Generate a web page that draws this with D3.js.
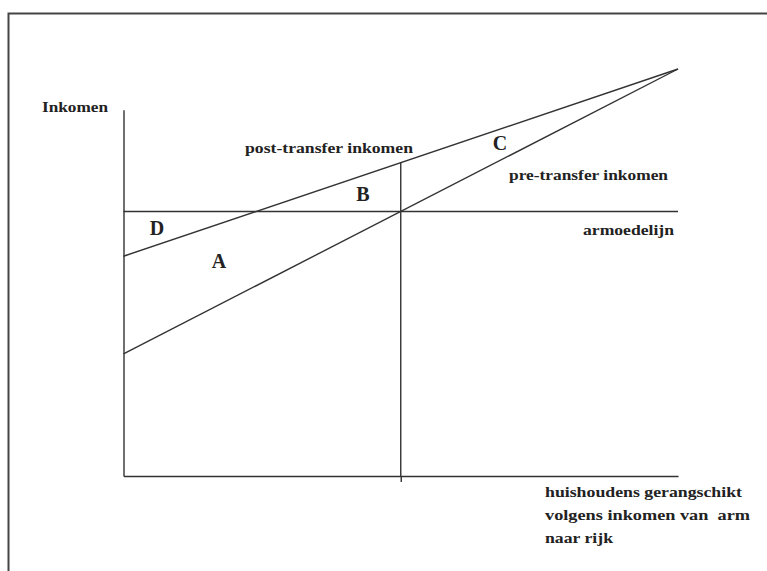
<!DOCTYPE html>
<html>
<head>
<meta charset="utf-8">
<script src="https://cdn.jsdelivr.net/npm/d3@7/dist/d3.min.js"></script>
<style>
  body { margin: 0; background: #fff; }
  svg text { font-family: "Liberation Serif", "Times New Roman", serif; font-weight: bold; fill: #222; white-space: pre; }
</style>
</head>
<body>
<svg id="chart" width="767" height="571"></svg>
<script>
// schematic: households ranked poor -> rich (0..100), income (0..100)
var rankDomain = [0, 100];
var incomeDomain = [0, 100];
var preTransfer = [[0, 30], [100, 100]];
var postTransfer = [[0, 54], [100, 100]];
var povertyLine = 65;
var medianRank = 50;
var incomeAxisTop = 90;

var areaLetters = ["C", "B", "D", "A"];
var lineLabels = ["post-transfer inkomen", "pre-transfer inkomen", "armoedelijn"];
var yLabel = "Inkomen";
var xLabel = ["huishoudens gerangschikt", "volgens inkomen van  arm", "naar rijk"];

var svg = d3.select("#chart");
var ink = "#333";

// frame around the figure
svg.append("path")
    .attr("d", "M8.5,571 L8.5,13.5 L767,13.5")
    .attr("fill", "none")
    .attr("stroke", "#444")
    .attr("stroke-width", 2);

var x = d3.scaleLinear().domain(rankDomain).range([123.5, 678]);
var y = d3.scaleLinear().domain(incomeDomain).range([476, 69]);

// axes
var xAxis = d3.axisBottom(x)
    .tickValues([medianRank])
    .tickSizeInner(6)
    .tickSizeOuter(0)
    .tickFormat("");

svg.append("g")
    .attr("class", "x axis")
    .attr("transform", "translate(0," + y(0) + ")")
    .call(xAxis)
    .call(function(g){
        g.selectAll("path, line").attr("stroke", ink).attr("stroke-width", 1.4);
    });

var yAxisScale = d3.scaleLinear().domain([0, incomeAxisTop]).range([y(0), y(incomeAxisTop)]);
svg.append("g")
    .attr("class", "y axis")
    .attr("transform", "translate(" + x(0) + ",0)")
    .call(d3.axisLeft(yAxisScale).tickValues([]).tickSizeOuter(0))
    .call(function(g){
        g.selectAll("path").attr("stroke", ink).attr("stroke-width", 1.4);
    });

// poverty line
svg.append("line")
    .attr("x1", x(0)).attr("x2", x(100))
    .attr("y1", y(povertyLine)).attr("y2", y(povertyLine))
    .attr("stroke", ink).attr("stroke-width", 1.4);

// income lines
var line = d3.line()
    .x(function(d){ return x(d[0]); })
    .y(function(d){ return y(d[1]); });

svg.selectAll(".income")
    .data([preTransfer, postTransfer])
    .enter()
    .append("path")
    .attr("class", "income")
    .attr("d", line)
    .attr("fill", "none")
    .attr("stroke", ink)
    .attr("stroke-width", 1.4);

// vertical line at the median household, up to the post-transfer line
var postAtMedian = d3.scaleLinear()
    .domain([postTransfer[0][0], postTransfer[1][0]])
    .range([postTransfer[0][1], postTransfer[1][1]])(medianRank);

svg.append("line")
    .attr("x1", x(medianRank)).attr("x2", x(medianRank))
    .attr("y1", y(0)).attr("y2", y(postAtMedian))
    .attr("stroke", ink).attr("stroke-width", 1.4);

// labels
function label(txt, px, py, size, len) {
    var t = svg.append("text")
        .attr("x", px)
        .attr("y", py)
        .attr("dy", "0.35em")
        .attr("xml:space", "preserve")
        .style("font-size", size + "px")
        .text(txt);
    if (len) t.attr("textLength", len).attr("lengthAdjust", "spacingAndGlyphs");
    return t;
}

label(yLabel, 42, 107, 15, 66);
label(lineLabels[0], 245, 148, 15, 168);
label(lineLabels[1], 509, 175, 15, 159);
label(lineLabels[2], 583, 230, 15, 91);

label(xLabel[0], 545, 492, 15, 197);
label(xLabel[1], 545, 515, 15, 205);
label(xLabel[2], 545, 538, 15, 68);

var letterPos = [[500, 143], [363, 194], [157, 228], [219, 261]];
areaLetters.forEach(function(l, i){
    label(l, letterPos[i][0], letterPos[i][1], 20).attr("text-anchor", "middle");
});
</script>
</body>
</html>
